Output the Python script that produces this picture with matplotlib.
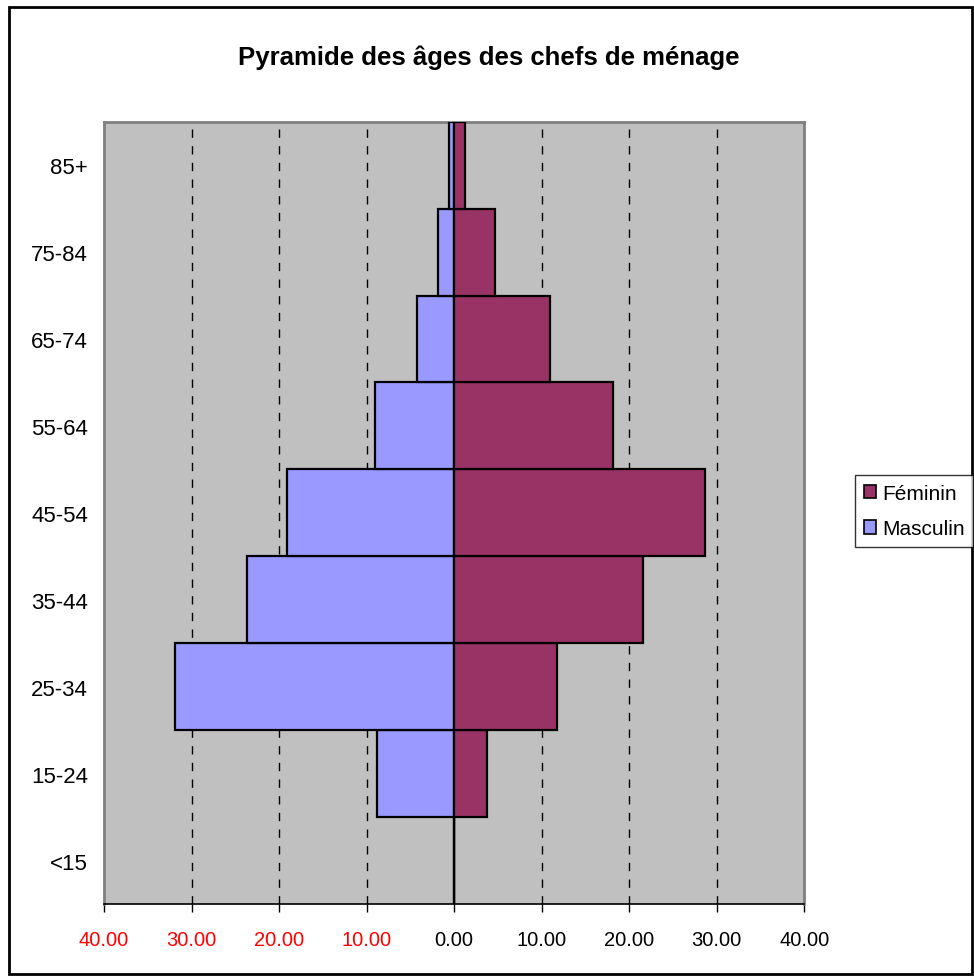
import matplotlib
matplotlib.use('Agg')
import matplotlib.pyplot as plt
from matplotlib.patches import Rectangle, Patch

plt.rcParams['font.family'] = ['Liberation Sans', 'DejaVu Sans']

# data (percent of household heads)
age_groups = ['<15', '15-24', '25-34', '35-44', '45-54', '55-64', '65-74', '75-84', '85+']
masculin = [0.0, 8.8, 31.9, 23.7, 19.1, 9.1, 4.3, 1.9, 0.6]
feminin = [0.0, 3.7, 11.8, 21.6, 28.7, 18.1, 10.9, 4.7, 1.2]
xticks = [-40, -30, -20, -10, 0, 10, 20, 30, 40]

male_color = '#9999FF'
female_color = '#993366'

fig = plt.figure(figsize=(9.74, 9.79), dpi=100)
ax = fig.add_axes([0.1068, 0.0756, 0.719, 0.7991])
ax.set_facecolor('#C0C0C0')

ypos = list(range(len(age_groups)))
ax.barh(ypos, [-v for v in masculin], height=1.0, color=male_color,
        edgecolor='black', linewidth=1.6, zorder=3)
ax.barh(ypos, feminin, height=1.0, color=female_color,
        edgecolor='black', linewidth=1.6, zorder=3)

# dashed grid lines, solid vertical axis at zero
for x in xticks[1:-1]:
    if x == 0:
        ax.axvline(0, color='black', linewidth=1.0, zorder=2)
    else:
        ax.axvline(x, color='black', linewidth=1.0, linestyle=(0, (6, 6)), zorder=2)

ax.set_xlim(-40, 40)
ax.set_ylim(-0.5, len(age_groups) - 0.5)
ax.set_xticks(xticks)
ax.set_xticklabels(['%.2f' % abs(x) for x in xticks], fontsize=14.5)
for lbl, x in zip(ax.get_xticklabels(), xticks):
    if x < 0:
        lbl.set_color('red')
ax.set_yticks(ypos)
ax.set_yticklabels(age_groups, fontsize=16)
ax.tick_params(axis='y', length=0, pad=11.5)
ax.tick_params(axis='x', length=6, width=1, direction='out', pad=12.5)

for side in ['top', 'left', 'right']:
    ax.spines[side].set_color('#808080')
    ax.spines[side].set_linewidth(2)
ax.spines['bottom'].set_color('black')
ax.spines['bottom'].set_linewidth(1.2)

fig.text(0.5017, 0.941, 'Pyramide des âges des chefs de ménage', ha='center', va='center',
         fontsize=18.5, fontweight='bold')

handles = [Patch(facecolor=female_color, edgecolor='black', linewidth=1.2, label='Féminin'),
           Patch(facecolor=male_color, edgecolor='black', linewidth=1.2, label='Masculin')]
leg = fig.legend(handles=handles, loc='center left', bbox_to_anchor=(0.878, 0.477),
                 fontsize=15, frameon=True, fancybox=False, handlelength=0.6,
                 handleheight=0.6, handletextpad=0.3, borderpad=0.4, labelspacing=0.8,
                 borderaxespad=0)
leg.get_frame().set_edgecolor('black')
leg.get_frame().set_linewidth(1.0)

fig.patches.append(Rectangle((0.009, 0.004), 0.989, 0.988, transform=fig.transFigure,
                             fill=False, edgecolor='black', linewidth=2))

fig.savefig('out.png', dpi=100)
